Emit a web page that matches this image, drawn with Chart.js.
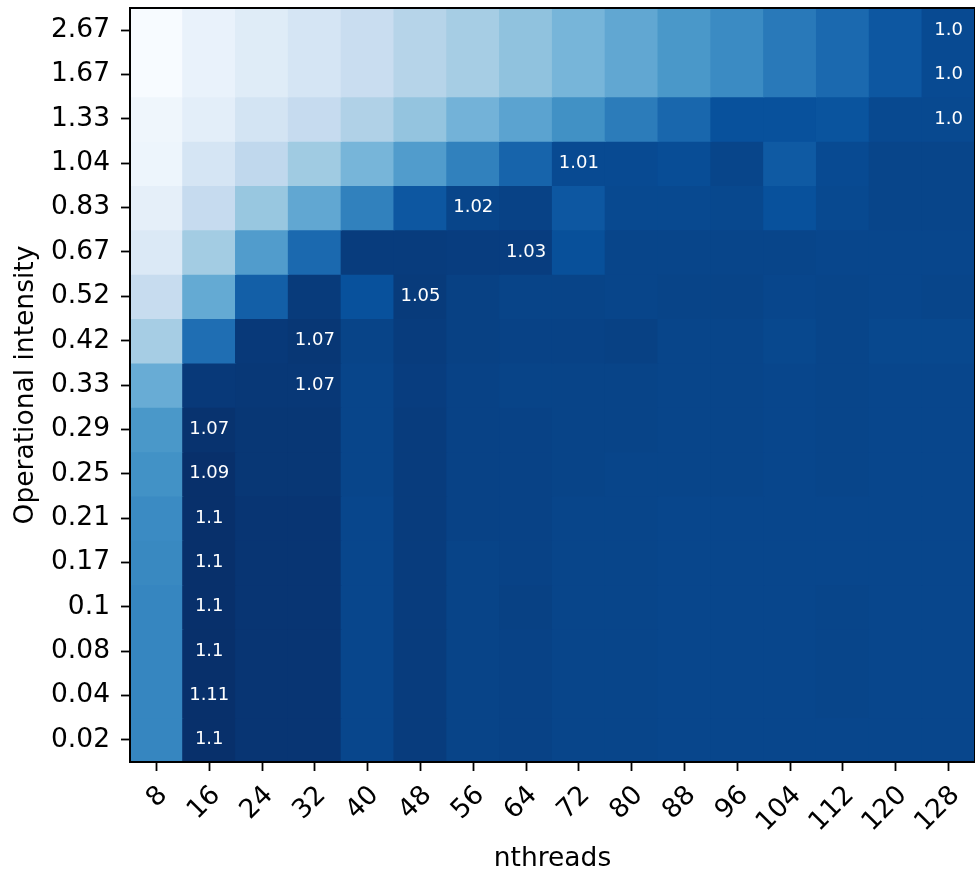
<!DOCTYPE html>
<html>
<head>
<meta charset="utf-8">
<script src="https://cdn.jsdelivr.net/npm/chart.js@4/dist/chart.umd.min.js"></script>
<style>
html,body{margin:0;padding:0;background:#fff;}
canvas{display:block;}
</style>
</head>
<body>
<canvas id="c" width="975" height="871"></canvas>
<script>
// ---- categories ----
const threads = ['8','16','24','32','40','48','56','64','72','80','88','96','104','112','120','128'];
// operational intensity rows, top to bottom
const intensities = ['2.67','1.67','1.33','1.04','0.83','0.67','0.52','0.42','0.33','0.29','0.25','0.21','0.17','0.1','0.08','0.04','0.02'];

// ---- heat values (colour scale 0..1), one array per intensity row ----
const row_2_67 = [0.00,0.07,0.12,0.17,0.235,0.30,0.35,0.41,0.47,0.53,0.60,0.65,0.72,0.78,0.85,0.90];
const row_1_67 = [0.00,0.07,0.12,0.17,0.235,0.30,0.35,0.41,0.47,0.53,0.60,0.65,0.72,0.78,0.85,0.90];
const row_1_33 = [0.04,0.10,0.18,0.25,0.32,0.40,0.48,0.55,0.63,0.71,0.79,0.875,0.875,0.865,0.905,0.905];
const row_1_04 = [0.05,0.17,0.27,0.37,0.47,0.58,0.69,0.80,0.90,0.90,0.89,0.92,0.84,0.90,0.92,0.92];
const row_0_83 = [0.09,0.25,0.39,0.53,0.69,0.85,0.92,0.93,0.85,0.905,0.905,0.91,0.875,0.905,0.92,0.92];
const row_0_67 = [0.14,0.36,0.58,0.78,0.955,0.955,0.95,0.95,0.88,0.92,0.92,0.92,0.92,0.915,0.915,0.915];
const row_0_52 = [0.245,0.52,0.82,0.96,0.875,0.96,0.935,0.925,0.925,0.92,0.925,0.925,0.915,0.92,0.915,0.92];
const row_0_42 = [0.35,0.76,0.965,0.975,0.925,0.955,0.935,0.93,0.93,0.935,0.92,0.92,0.91,0.92,0.91,0.91];
const row_0_33 = [0.51,0.965,0.97,0.97,0.92,0.95,0.93,0.925,0.925,0.925,0.92,0.92,0.915,0.92,0.915,0.915];
const row_0_29 = [0.60,0.99,0.975,0.975,0.92,0.955,0.93,0.93,0.925,0.925,0.92,0.92,0.915,0.92,0.915,0.915];
const row_0_25 = [0.625,1.00,0.975,0.975,0.92,0.955,0.93,0.93,0.925,0.92,0.92,0.92,0.915,0.92,0.915,0.915];
const row_0_21 = [0.65,1.00,0.98,0.98,0.915,0.955,0.93,0.93,0.92,0.92,0.915,0.915,0.915,0.915,0.915,0.915];
const row_0_17 = [0.66,1.00,0.98,0.98,0.915,0.955,0.925,0.93,0.92,0.92,0.915,0.915,0.915,0.915,0.915,0.915];
const row_0_1  = [0.67,1.00,0.98,0.98,0.915,0.955,0.925,0.935,0.92,0.92,0.915,0.915,0.915,0.92,0.915,0.915];
const row_0_08 = [0.67,1.00,0.98,0.98,0.915,0.955,0.925,0.93,0.92,0.92,0.915,0.915,0.915,0.92,0.915,0.915];
const row_0_04 = [0.67,1.00,0.98,0.98,0.915,0.955,0.925,0.93,0.92,0.92,0.915,0.915,0.915,0.92,0.915,0.915];
const row_0_02 = [0.67,1.00,0.98,0.98,0.915,0.955,0.925,0.93,0.92,0.92,0.915,0.915,0.915,0.915,0.915,0.915];

// ---- annotations: best thread count (index into threads) and its ratio, per row ----
const bestThreadIdx = [15,15,15,8,6,7,5,3,3,1,1,1,1,1,1,1,1];
const bestRatio     = [1.0,1.0,1.0,1.01,1.02,1.03,1.05,1.07,1.07,1.07,1.09,1.1,1.1,1.1,1.1,1.11,1.1];

const heatRows = [row_2_67,row_1_67,row_1_33,row_1_04,row_0_83,row_0_67,row_0_52,row_0_42,row_0_33,
                  row_0_29,row_0_25,row_0_21,row_0_17,row_0_1,row_0_08,row_0_04,row_0_02];

// matplotlib "Blues" colormap anchors
const BLUES = [[247,251,255],[222,235,247],[198,219,239],[158,202,225],[107,174,214],[66,146,198],[33,113,181],[8,81,156],[8,48,107]];
function blues(t){
  t = Math.max(0, Math.min(1, t));
  const p = t * 8; const i = Math.min(7, Math.floor(p)); const f = p - i;
  const a = BLUES[i], b = BLUES[i+1];
  return 'rgb(' + Math.round(a[0]+(b[0]-a[0])*f) + ',' + Math.round(a[1]+(b[1]-a[1])*f) + ',' + Math.round(a[2]+(b[2]-a[2])*f) + ')';
}
function fmtRatio(v){ return Number.isInteger(v) ? v.toFixed(1) : String(v); }

const nRows = intensities.length;
const FONT = 'DejaVu Sans';
const LABEL_SIZE = 26.5;

const datasets = heatRows.map((row, r) => ({
  label: intensities[r],
  data: row.map(() => [nRows - 1 - r, nRows - r]),
  backgroundColor: row.map(blues),
  borderWidth: 0,
  inflateAmount: 0.6,
  grouped: false,
  barPercentage: 1,
  categoryPercentage: 1
}));

const annotPlugin = {
  id: 'annot',
  afterDatasetsDraw(chart){
    const {ctx, chartArea: a, scales: {x, y}} = chart;
    ctx.save();
    ctx.fillStyle = '#ffffff';
    ctx.font = '18px "' + FONT + '"';
    ctx.textAlign = 'center';
    ctx.textBaseline = 'middle';
    bestThreadIdx.forEach((c, r) => {
      const px = x.getPixelForValue(c);
      const py = y.getPixelForValue(nRows - 1 - r + 0.5);
      ctx.fillText(fmtRatio(bestRatio[r]), px, py);
    });
    ctx.strokeStyle = '#000';
    ctx.lineWidth = 2;
    ctx.strokeRect(a.left, a.top, a.right - a.left, a.bottom - a.top);
    ctx.restore();
  }
};

new Chart(document.getElementById('c'), {
  type: 'bar',
  data: { labels: threads, datasets },
  plugins: [annotPlugin],
  options: {
    responsive: false,
    devicePixelRatio: 1,
    animation: false,
    events: [],
    layout: { padding: { top: 8, left: 0, right: 0, bottom: 0 } },
    plugins: { legend: { display: false }, tooltip: { enabled: false } },
    scales: {
      x: {
        type: 'category',
        offset: true,
        grid: { display: true, drawOnChartArea: false, offset: false, tickLength: 9, tickWidth: 1.8, tickColor: '#000' },
        border: { display: false },
        ticks: { color: '#000', font: { family: FONT, size: LABEL_SIZE }, minRotation: 45, maxRotation: 45, padding: 9, labelOffset: 7, autoSkip: false },
        title: { display: true, text: 'nthreads', color: '#000', font: { family: FONT, size: LABEL_SIZE, lineHeight: 0.93 }, padding: 0 },
        afterFit: s => { s.height = 109; s.paddingLeft = 0; s.paddingRight = 0; }
      },
      y: {
        type: 'linear',
        min: 0,
        max: nRows,
        afterBuildTicks: s => { s.ticks = intensities.map((_, i) => ({ value: i + 0.5 })); },
        grid: { display: true, drawOnChartArea: false, tickLength: 9, tickWidth: 1.8, tickColor: '#000' },
        border: { display: false },
        ticks: {
          color: '#000', font: { family: FONT, size: LABEL_SIZE }, padding: 11, autoSkip: false,
          callback: v => intensities[nRows - 1 - Math.floor(v)]
        },
        title: { display: true, text: 'Operational intensity', color: '#000', font: { family: FONT, size: LABEL_SIZE }, padding: { top: 10, bottom: 0 } },
        afterFit: s => { s.width = 130; s.paddingTop = 0; s.paddingBottom = 0; }
      }
    }
  }
});
</script>
</body>
</html>
